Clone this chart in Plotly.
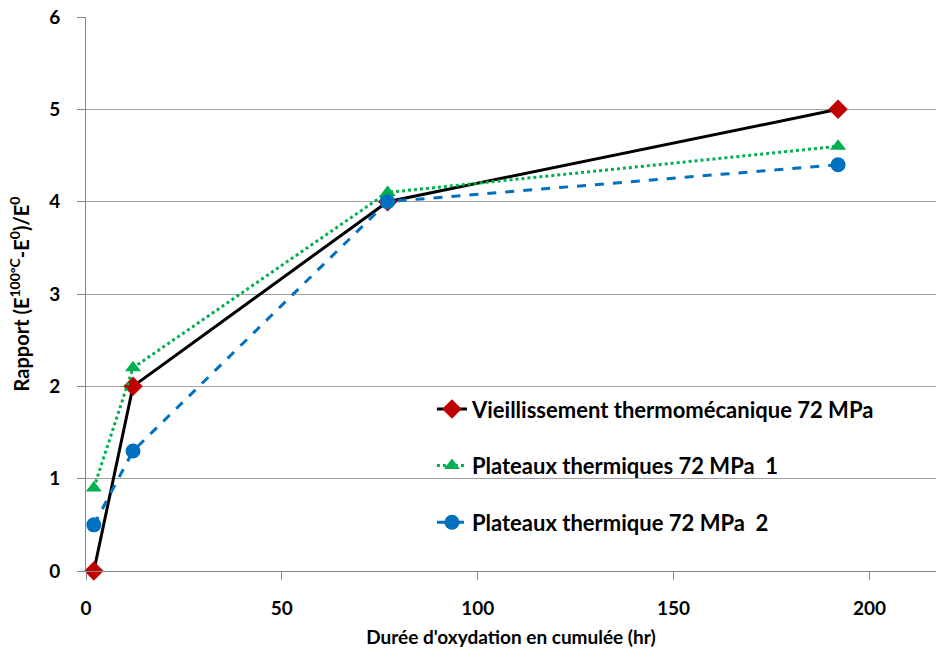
import plotly.graph_objects as go

# Oxidation time (hr) and ratio values
hours = [2, 12, 77, 192]
vieillissement = [0, 2, 4, 5]
plateaux_1 = [0.9, 2.2, 4.1, 4.6]
plateaux_2 = [0.5, 1.3, 4.0, 4.4]

names = ["Vieillissement thermomécanique 72 MPa",
         "Plateaux thermiques 72 MPa  1",
         "Plateaux thermique 72 MPa  2"]

font_family = "Lato"

fig = go.Figure()

fig.add_trace(go.Scatter(
    x=hours, y=vieillissement, name=names[0], legendgroup="a",
    mode="lines+markers", cliponaxis=False,
    line=dict(color="black", width=3),
    marker=dict(symbol="diamond", size=15, color="#C00000"),
))
fig.add_trace(go.Scatter(
    x=hours, y=plateaux_1, name=names[1], legendgroup="b",
    mode="lines+markers", cliponaxis=False,
    line=dict(color="#00B050", width=3, dash="dot"),
    marker=dict(symbol="triangle-up", size=14, color="#00B050"),
))
fig.add_trace(go.Scatter(
    x=hours, y=plateaux_2, name=names[2], legendgroup="c",
    mode="lines+markers", cliponaxis=False,
    line=dict(color="#0070C0", width=3, dash="dash"),
    marker=dict(symbol="circle", size=15, color="#0070C0"),
))

fig.update_layout(
    width=936, height=653,
    margin=dict(l=86, r=0, t=17, b=82),
    plot_bgcolor="white", paper_bgcolor="white",
    font=dict(family=font_family, size=18, color="black"),
    legend=dict(x=0.407, y=0.33, xanchor="left", yanchor="top",
                bgcolor="rgba(0,0,0,0)", tracegroupgap=25,
                font=dict(size=22, family=font_family, weight="bold")),
)

fig.update_xaxes(
    range=[0, 217], tickvals=[0, 50, 100, 150, 200],
    showgrid=False, zeroline=False, automargin=False,
    showline=True, linecolor="#888888", linewidth=1,
    ticks="outside", ticklen=8, tickcolor="#888888",
    ticklabelstandoff=12,
    tickfont=dict(size=19, family=font_family, weight="bold"),
    title=dict(text="Durée d'oxydation en cumulée (hr)", standoff=12,
               font=dict(size=19, family=font_family, weight="bold")),
)
fig.update_yaxes(
    range=[0, 6], dtick=1,
    showgrid=True, gridcolor="#A0A0A0", gridwidth=1, zeroline=False, automargin=False,
    showline=True, linecolor="#888888", linewidth=1,
    ticks="outside", ticklen=8, tickcolor="#888888",
    ticklabelstandoff=13, ticklabeloverflow="allow",
    tickfont=dict(size=19, family=font_family, weight="bold"),
    title=dict(text="Rapport (E<sup>100°C</sup>-E<sup>0</sup>)/E<sup>0</sup>", standoff=14,
               font=dict(size=20, family=font_family, weight="bold")),
)

# drop the default 8px page margin so the figure fills the window
fig.write_html("out.html", config={"displayModeBar": False},
               post_script="document.body.style.margin = '0';")
